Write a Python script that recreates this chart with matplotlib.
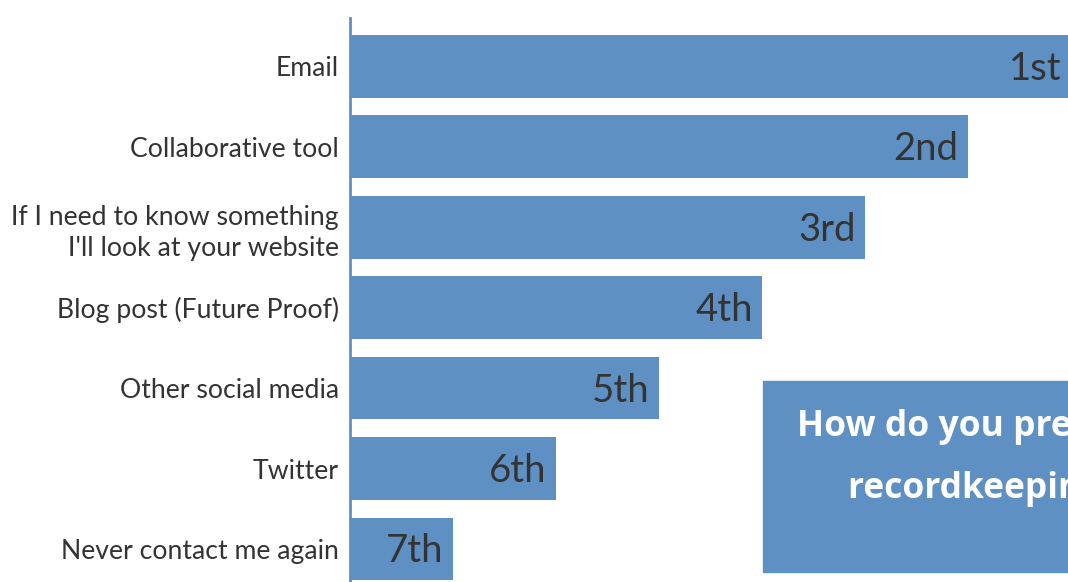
import matplotlib
matplotlib.use("Agg")
import matplotlib.pyplot as plt
from matplotlib.patches import Rectangle

# Ranking of preferred contact channels (1st = most preferred)
channels = [
    "Email",
    "Collaborative tool",
    "If I need to know something\nI'll look at your website",
    "Blog post (Future Proof)",
    "Other social media",
    "Twitter",
    "Never contact me again",
]
scores = [7, 6, 5, 4, 3, 2, 1]
rank_labels = ["1st", "2nd", "3rd", "4th", "5th", "6th", "7th"]
box_title = "How do you prefer to receive\nrecordkeeping update?"

bar_color = "#5e90c3"
text_color = "#333333"

W, H = 1068, 582
fig = plt.figure(figsize=(W / 100, H / 100), dpi=100)
ax = fig.add_axes([350 / W, 0, 718 / W, 1 - 18 / H])

ypos = list(range(len(channels)))
ax.barh(ypos, scores, height=0.78, color=bar_color)
ax.set_xlim(0, 718 / 103)
ax.set_ylim(6.41, -0.6)

for y, s, lab in zip(ypos, scores, rank_labels):
    ax.text(s - 0.09, y + 0.03, lab, ha="right", va="center", fontsize=27.5,
            color=text_color, family="Lato")

ax.set_yticks(ypos)
ax.set_yticklabels(channels, fontsize=19.2, color=text_color, family="Lato",
                   linespacing=1.3)
ax.tick_params(axis="y", length=0, pad=8)
ax.set_xticks([])
for side in ["top", "right", "bottom"]:
    ax.spines[side].set_visible(False)
ax.spines["left"].set_color(bar_color)
ax.spines["left"].set_linewidth(2)

# title box partly outside the canvas (cut off as in the original)
fig.patches.append(Rectangle((763 / W, 1 - 572 / H), 400 / W, 191 / H,
                             transform=fig.transFigure, color=bar_color,
                             zorder=5))
fig.text(797 / W, 1 - 458 / H, box_title, ha="left", va="center",
         multialignment="center", fontsize=25.5, fontweight="bold",
         color="white", family="Open Sans", linespacing=1.95, zorder=6)

fig.savefig("out.png", dpi=100)
